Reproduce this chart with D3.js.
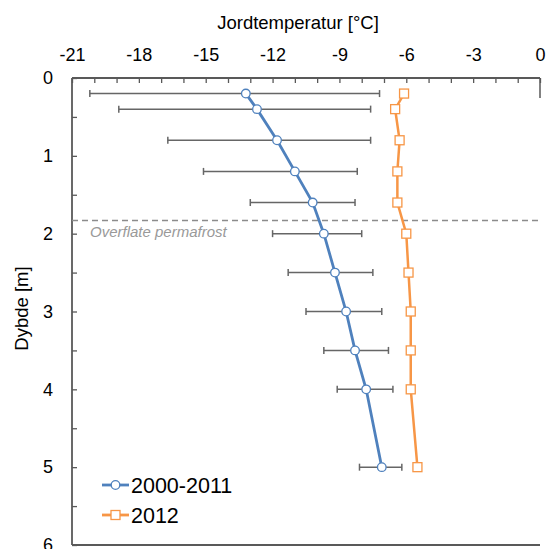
<!DOCTYPE html>
<html>
<head>
<meta charset="utf-8">
<script src="https://cdn.jsdelivr.net/npm/d3@7"></script>
<style>
  html, body { margin: 0; padding: 0; background: #fff; }
  svg { display: block; font-family: "Liberation Sans", Arial, sans-serif; }
</style>
</head>
<body>
<svg id="chart" width="549" height="549"></svg>
<script>
// ---- Data ----
const depths = [0.2, 0.4, 0.8, 1.2, 1.6, 2.0, 2.5, 3.0, 3.5, 4.0, 5.0];
const mean2000_2011 = [-13.2, -12.7, -11.8, -11.0, -10.2, -9.7, -9.2, -8.7, -8.3, -7.8, -7.1];
const errLow2000_2011 = [-20.2, -18.9, -16.7, -15.1, -13.0, -12.0, -11.3, -10.5, -9.7, -9.1, -8.1];
const errHigh2000_2011 = [-7.2, -7.6, -7.6, -8.2, -8.3, -8.0, -7.5, -7.1, -6.8, -6.6, -6.2];
const temp2012 = [-6.1, -6.5, -6.3, -6.4, -6.4, -6.0, -5.9, -5.8, -5.8, -5.8, -5.5];
const seriesNames = ["2000-2011", "2012"];
const xTickLabels = [-21, -18, -15, -12, -9, -6, -3, 0];
const yTickLabels = [0, 1, 2, 3, 4, 5, 6];
const permafrostDepth = 1.83;
const permafrostLabel = "Overflate permafrost";
const xTitle = "Jordtemperatur [°C]";
const yTitle = "Dybde [m]";

// ---- Layout ----
const svg = d3.select("#chart");
const pLeft = 72, pRight = 540, pTop = 78, pBottom = 545;
const x = d3.scaleLinear().domain([-21, 0]).range([pLeft, pRight]);
const y = d3.scaleLinear().domain([0, 6]).range([pTop, pBottom]);

const axisColor = "#595959";
const blue = "#4F81BD";
const orange = "#F79646";

// X axis (top)
const xAxis = d3.axisTop(x)
  .tickValues(d3.range(-21, 0.001, 1))
  .tickSizeInner(-5).tickSizeOuter(0).tickPadding(17)
  .tickFormat(d => xTickLabels.includes(Math.round(d)) ? String(Math.round(d)) : "");
const gx = svg.append("g").attr("transform", `translate(0,${pTop})`).call(xAxis);
gx.select(".domain").remove();
gx.selectAll(".tick line").attr("stroke", axisColor).attr("stroke-width", 1.3);
gx.selectAll(".tick text").attr("fill", "#000").style("font-size", "18px");

// Y axis (left)
const yAxis = d3.axisLeft(y)
  .tickValues(d3.range(0, 6.001, 0.5))
  .tickSizeInner(-5).tickSizeOuter(0).tickPadding(19)
  .tickFormat(d => yTickLabels.includes(d) ? String(d) : "");
const gy = svg.append("g").attr("transform", `translate(${pLeft},0)`).call(yAxis);
gy.select(".domain").remove();
gy.selectAll(".tick line").attr("stroke", axisColor).attr("stroke-width", 1.3);
gy.selectAll(".tick text").attr("fill", "#000").style("font-size", "18px");

// Frame lines
svg.append("line").attr("x1", x(-21)).attr("x2", x(0)).attr("y1", y(0)).attr("y2", y(0))
  .attr("stroke", axisColor).attr("stroke-width", 1.8);
svg.append("line").attr("x1", x(-21)).attr("x2", x(-21)).attr("y1", y(0)).attr("y2", y(6))
  .attr("stroke", axisColor).attr("stroke-width", 1.8);
svg.append("line").attr("x1", x(-21)).attr("x2", x(0)).attr("y1", y(6)).attr("y2", y(6))
  .attr("stroke", axisColor).attr("stroke-width", 1.8);
svg.append("line").attr("x1", x(0)).attr("x2", x(0)).attr("y1", y(0)).attr("y2", y(0) + 20)
  .attr("stroke", axisColor).attr("stroke-width", 1.5);

// Titles
svg.append("text").attr("x", 298).attr("y", 29).attr("text-anchor", "middle")
  .style("font-size", "18.5px").attr("fill", "#000").text(xTitle);
svg.append("text").attr("transform", `translate(28,${(pTop + pBottom) / 2 - 3}) rotate(-90)`)
  .attr("text-anchor", "middle").style("font-size", "18.5px").attr("fill", "#000").text(yTitle);

// Permafrost line
svg.append("line").attr("x1", x(-21)).attr("x2", x(0))
  .attr("y1", y(permafrostDepth)).attr("y2", y(permafrostDepth))
  .attr("stroke", "#8c8c8c").attr("stroke-width", 1.5).attr("stroke-dasharray", "6,4");
svg.append("text").attr("x", 90).attr("y", y(permafrostDepth) + 16.5)
  .style("font-size", "15px").style("font-style", "italic").attr("fill", "#999")
  .text(permafrostLabel);

// Error bars
const eb = svg.append("g");
depths.forEach((d, i) => {
  const yy = y(d);
  eb.append("line").attr("x1", x(errLow2000_2011[i])).attr("x2", x(errHigh2000_2011[i]))
    .attr("y1", yy).attr("y2", yy).attr("stroke", "#666").attr("stroke-width", 1.5);
  [errLow2000_2011[i], errHigh2000_2011[i]].forEach(v => {
    eb.append("line").attr("x1", x(v)).attr("x2", x(v)).attr("y1", yy - 3.5).attr("y2", yy + 3.5)
      .attr("stroke", "#666").attr("stroke-width", 1.5);
  });
});

// Lines
const line = d3.line().x(d => x(d[0])).y(d => y(d[1]));
const blueData = depths.map((d, i) => [mean2000_2011[i], d]);
const orangeData = depths.map((d, i) => [temp2012[i], d]);
svg.append("path").datum(orangeData).attr("d", line).attr("fill", "none")
  .attr("stroke", orange).attr("stroke-width", 2.5);
svg.append("path").datum(blueData).attr("d", line).attr("fill", "none")
  .attr("stroke", blue).attr("stroke-width", 2.8);

// Markers
svg.selectAll(".mb").data(blueData).enter().append("circle")
  .attr("cx", d => x(d[0])).attr("cy", d => y(d[1])).attr("r", 4.3)
  .attr("fill", "#fff").attr("stroke", blue).attr("stroke-width", 1.3);
svg.selectAll(".mo").data(orangeData).enter().append("rect")
  .attr("x", d => x(d[0]) - 4.5).attr("y", d => y(d[1]) - 4.5).attr("width", 9).attr("height", 9)
  .attr("fill", "#fff").attr("stroke", orange).attr("stroke-width", 1.3);

// Legend
const lg = svg.append("g");
[[485, blue, "circle"], [515, orange, "rect"]].forEach((r, i) => {
  const [ly, col, shape] = r;
  lg.append("line").attr("x1", 102).attr("x2", 129).attr("y1", ly).attr("y2", ly)
    .attr("stroke", col).attr("stroke-width", 2.8);
  if (shape === "circle") {
    lg.append("circle").attr("cx", 115.5).attr("cy", ly).attr("r", 4.3)
      .attr("fill", "#fff").attr("stroke", col).attr("stroke-width", 1.3);
  } else {
    lg.append("rect").attr("x", 111).attr("y", ly - 4.5).attr("width", 9).attr("height", 9)
      .attr("fill", "#fff").attr("stroke", col).attr("stroke-width", 1.3);
  }
  lg.append("text").attr("x", 131).attr("y", ly + 8).style("font-size", "21.5px")
    .attr("fill", "#000").text(seriesNames[i]);
});
</script>
</body>
</html>
